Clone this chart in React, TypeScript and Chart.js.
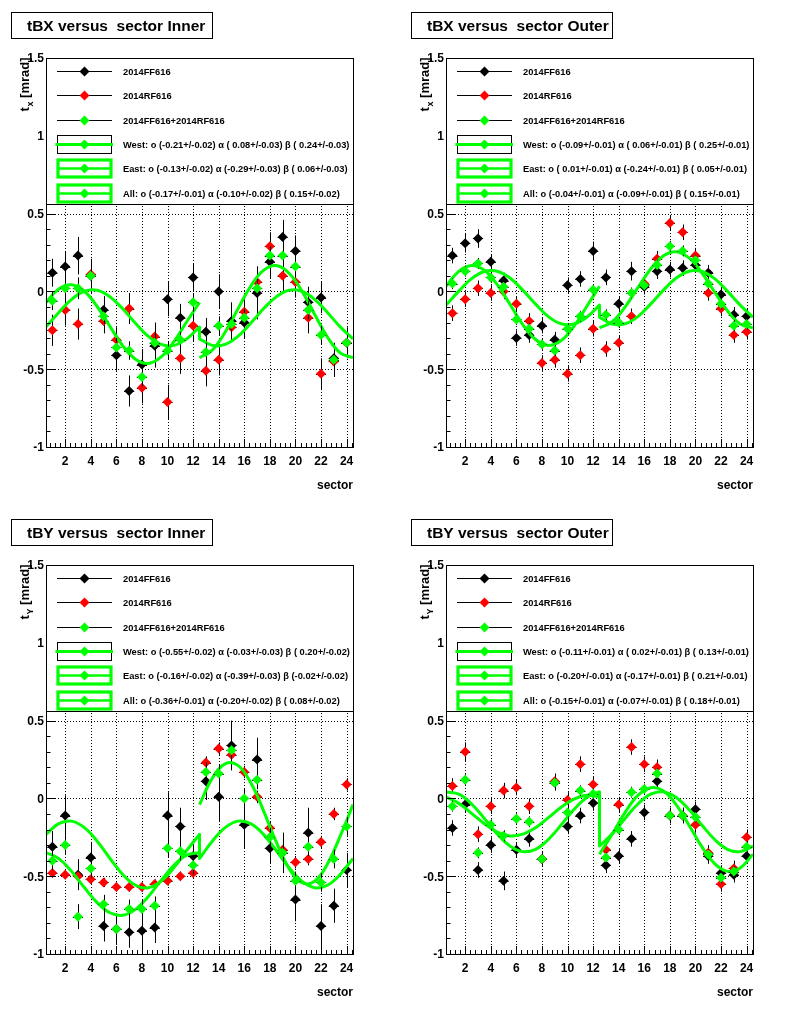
import React, { useEffect, useRef } from "react";
import { Chart, registerables } from "chart.js";
Chart.register(...registerables);

const FONT = '"Liberation Sans", Arial, Helvetica, sans-serif';

// ---------- axes ----------
const sectors = [1, 2, 3, 4, 5, 6, 7, 8, 9, 10, 11, 12, 13, 14, 15, 16, 17, 18, 19, 20, 21, 22, 23, 24];
const fitXWest = [0.5, 1.5, 2.5, 3.5, 4.5, 5.5, 6.5, 7.5, 8.5, 9.5, 10.5, 11.5, 12.5];
const fitXEast = [12.5, 13.5, 14.5, 15.5, 16.5, 17.5, 18.5, 19.5, 20.5, 21.5, 22.5, 23.5, 24.5];
const yTickValues = [-1, -0.5, 0, 0.5, 1, 1.5];
const yTickLabels = ["-1", "-0.5", "0", "0.5", "1", "1.5"];
const xTickValues = [2, 4, 6, 8, 10, 12, 14, 16, 18, 20, 22, 24];
const xTickLabels = ["2", "4", "6", "8", "10", "12", "14", "16", "18", "20", "22", "24"];
const seriesNames = ["2014FF616", "2014RF616", "2014FF616+2014RF616"];

// ---------- panel 1 : tBX Inner ----------
const p1Black = [0.12, 0.16, 0.23, 0.10, -0.12, -0.41, -0.64, -0.47, -0.35, -0.05, -0.17, 0.09, -0.26, 0.00, -0.19, -0.20, -0.01, 0.19, 0.35, 0.26, -0.07, -0.04, -0.43, -0.33];
const p1BlackErr = [0.09, 0.10, 0.12, 0.11, 0.09, 0.10, 0.10, 0.10, 0.14, 0.11, 0.09, 0.09, 0.09, 0.11, 0.12, 0.10, 0.17, 0.11, 0.11, 0.10, 0.10, 0.10, 0.10, 0.10];
const p1Red = [-0.25, -0.12, -0.21, 0.11, -0.19, -0.31, -0.11, -0.62, -0.29, -0.71, -0.43, -0.22, -0.51, -0.44, -0.23, -0.13, 0.06, 0.29, 0.10, 0.06, -0.17, -0.53, -0.45, -0.33];
const p1RedErr = [0.10, 0.10, 0.10, 0.08, 0.08, 0.08, 0.10, 0.10, 0.09, 0.11, 0.10, 0.10, 0.10, 0.10, 0.09, 0.08, 0.10, 0.09, 0.10, 0.10, 0.10, 0.10, 0.10, 0.08];
const p1Green = [-0.06, 0.02, 0.02, 0.10, -0.16, -0.36, -0.38, -0.55, -0.33, -0.38, -0.31, -0.07, -0.39, -0.22, -0.21, -0.17, 0.02, 0.23, 0.23, 0.16, -0.12, -0.28, -0.44, -0.33];
const p1GreenErr = [0.06, 0.06, 0.07, 0.06, 0.05, 0.06, 0.06, 0.06, 0.07, 0.06, 0.05, 0.06, 0.06, 0.06, 0.07, 0.06, 0.06, 0.06, 0.06, 0.06, 0.06, 0.06, 0.06, 0.05];
const p1West = [-0.071, 0.016, 0.043, 0.001, -0.097, -0.225, -0.349, -0.436, -0.463, -0.421, -0.323, -0.195, -0.071];
const p1East = [-0.426, -0.377, -0.263, -0.113, 0.033, 0.135, 0.166, 0.117, 0.003, -0.147, -0.293, -0.395, -0.426];
const p1AllWest = [-0.228, -0.135, -0.051, 0.001, 0.007, -0.035, -0.112, -0.205, -0.289, -0.341, -0.347, -0.305, -0.228];
const p1AllEast = [-0.305, -0.347, -0.341, -0.289, -0.205, -0.112, -0.035, 0.007, 0.001, -0.051, -0.135, -0.228, -0.305];
const p1FitText = [
  "West: o (-0.21+/-0.02) \u03b1 ( 0.08+/-0.03) \u03b2 ( 0.24+/-0.03)",
  "East: o (-0.13+/-0.02) \u03b1 (-0.29+/-0.03) \u03b2 ( 0.06+/-0.03)",
  "All: o (-0.17+/-0.01) \u03b1 (-0.10+/-0.02) \u03b2 ( 0.15+/-0.02)",
];

// ---------- panel 2 : tBX Outer ----------
const p2Black = [0.23, 0.31, 0.34, 0.19, 0.07, -0.30, -0.28, -0.22, -0.31, 0.04, 0.08, 0.26, 0.09, -0.08, 0.13, 0.03, 0.13, 0.14, 0.15, 0.17, 0.12, -0.02, -0.15, -0.16];
const p2BlackErr = [0.05, 0.06, 0.06, 0.05, 0.05, 0.05, 0.05, 0.05, 0.05, 0.05, 0.05, 0.06, 0.05, 0.05, 0.06, 0.05, 0.05, 0.05, 0.05, 0.05, 0.05, 0.05, 0.05, 0.05];
const p2Red = [-0.14, -0.05, 0.02, -0.01, 0.00, -0.08, -0.19, -0.46, -0.44, -0.53, -0.41, -0.24, -0.37, -0.33, -0.16, 0.05, 0.21, 0.44, 0.38, 0.23, -0.01, -0.11, -0.28, -0.26];
const p2RedErr = [0.05, 0.05, 0.05, 0.05, 0.05, 0.05, 0.05, 0.05, 0.05, 0.05, 0.05, 0.05, 0.05, 0.05, 0.05, 0.05, 0.05, 0.05, 0.05, 0.05, 0.05, 0.05, 0.05, 0.05];
const p2Green = [0.05, 0.13, 0.18, 0.09, 0.03, -0.18, -0.24, -0.34, -0.38, -0.24, -0.16, 0.01, -0.15, -0.20, -0.01, 0.04, 0.17, 0.29, 0.26, 0.20, 0.05, -0.08, -0.22, -0.21];
const p2GreenErr = [0.035, 0.035, 0.035, 0.035, 0.035, 0.035, 0.035, 0.035, 0.035, 0.035, 0.035, 0.035, 0.035, 0.035, 0.035, 0.035, 0.035, 0.035, 0.035, 0.035, 0.035, 0.035, 0.035, 0.035];
const p2West = [0.033, 0.129, 0.167, 0.136, 0.044, -0.083, -0.213, -0.309, -0.347, -0.316, -0.224, -0.097, 0.033];
const p2East = [-0.235, -0.195, -0.100, 0.024, 0.144, 0.229, 0.255, 0.215, 0.120, -0.004, -0.124, -0.209, -0.235];
const p2AllWest = [-0.088, 0.002, 0.082, 0.128, 0.130, 0.086, 0.008, -0.082, -0.162, -0.208, -0.210, -0.166, -0.088];
const p2AllEast = [-0.166, -0.210, -0.208, -0.162, -0.082, 0.008, 0.086, 0.130, 0.128, 0.082, 0.002, -0.088, -0.166];
const p2FitText = [
  "West: o (-0.09+/-0.01) \u03b1 ( 0.06+/-0.01) \u03b2 ( 0.25+/-0.01)",
  "East: o ( 0.01+/-0.01) \u03b1 (-0.24+/-0.01) \u03b2 ( 0.05+/-0.01)",
  "All: o (-0.04+/-0.01) \u03b1 (-0.09+/-0.01) \u03b2 ( 0.15+/-0.01)",
];

// ---------- panel 3 : tBY Inner ----------
const p3Black = [-0.31, -0.11, -0.49, -0.38, -0.82, -0.84, -0.86, -0.85, -0.83, -0.11, -0.18, -0.37, 0.11, 0.01, 0.34, -0.17, 0.25, -0.32, -0.35, -0.65, -0.22, -0.82, -0.69, -0.46];
const p3BlackErr = [0.10, 0.13, 0.10, 0.10, 0.10, 0.10, 0.10, 0.10, 0.10, 0.15, 0.12, 0.10, 0.12, 0.16, 0.16, 0.15, 0.14, 0.10, 0.13, 0.14, 0.16, 0.14, 0.11, 0.11];
const p3Red = [-0.48, -0.49, -0.50, -0.52, -0.54, -0.57, -0.57, -0.57, -0.55, -0.53, -0.50, -0.48, 0.23, 0.32, 0.28, 0.17, 0.01, -0.19, -0.33, -0.41, -0.39, -0.28, -0.10, 0.09];
const p3RedErr = [0.03, 0.03, 0.03, 0.03, 0.03, 0.03, 0.03, 0.03, 0.03, 0.03, 0.03, 0.03, 0.04, 0.04, 0.04, 0.04, 0.04, 0.04, 0.04, 0.04, 0.04, 0.04, 0.04, 0.04];
const p3Green = [-0.40, -0.30, -0.76, -0.45, -0.68, -0.84, -0.71, -0.71, -0.69, -0.32, -0.34, -0.43, 0.17, 0.16, 0.31, 0.00, 0.12, -0.25, -0.35, -0.53, -0.31, -0.54, -0.39, -0.18];
const p3GreenErr = [0.06, 0.06, 0.08, 0.06, 0.06, 0.06, 0.06, 0.06, 0.06, 0.06, 0.06, 0.06, 0.06, 0.06, 0.06, 0.06, 0.06, 0.06, 0.06, 0.06, 0.06, 0.06, 0.06, 0.06];
const p3West = [-0.349, -0.387, -0.469, -0.573, -0.670, -0.735, -0.751, -0.713, -0.631, -0.527, -0.430, -0.365, -0.349];
const p3East = [-0.040, 0.130, 0.222, 0.212, 0.102, -0.078, -0.280, -0.450, -0.542, -0.532, -0.422, -0.242, -0.040];
const p3AllWest = [-0.231, -0.162, -0.146, -0.188, -0.275, -0.386, -0.489, -0.558, -0.574, -0.532, -0.445, -0.335, -0.231];
const p3AllEast = [-0.386, -0.275, -0.188, -0.146, -0.162, -0.231, -0.335, -0.445, -0.532, -0.574, -0.558, -0.489, -0.386];
const p3FitText = [
  "West: o (-0.55+/-0.02) \u03b1 (-0.03+/-0.03) \u03b2 ( 0.20+/-0.02)",
  "East: o (-0.16+/-0.02) \u03b1 (-0.39+/-0.03) \u03b2 (-0.02+/-0.02)",
  "All: o (-0.36+/-0.01) \u03b1 (-0.20+/-0.02) \u03b2 ( 0.08+/-0.02)",
];

// ---------- panel 4 : tBY Outer ----------
const p4Black = [-0.19, -0.04, -0.46, -0.30, -0.53, -0.33, -0.26, -0.39, 0.10, -0.18, -0.11, -0.03, -0.43, -0.37, -0.26, -0.09, 0.11, -0.11, -0.11, -0.07, -0.37, -0.48, -0.49, -0.37];
const p4BlackErr = [0.05, 0.05, 0.05, 0.05, 0.06, 0.05, 0.05, 0.05, 0.05, 0.05, 0.05, 0.05, 0.05, 0.05, 0.05, 0.05, 0.05, 0.05, 0.05, 0.05, 0.05, 0.05, 0.05, 0.05];
const p4Red = [0.08, 0.30, -0.23, -0.05, 0.05, 0.07, -0.05, -0.39, 0.11, -0.01, 0.22, 0.09, -0.33, -0.04, 0.33, 0.22, 0.20, -0.11, -0.11, -0.17, -0.35, -0.55, -0.45, -0.25];
const p4RedErr = [0.05, 0.06, 0.05, 0.05, 0.05, 0.05, 0.05, 0.05, 0.05, 0.05, 0.05, 0.05, 0.05, 0.05, 0.05, 0.05, 0.05, 0.05, 0.05, 0.05, 0.05, 0.05, 0.05, 0.05];
const p4Green = [-0.05, 0.12, -0.35, -0.17, -0.24, -0.13, -0.15, -0.39, 0.10, -0.09, 0.05, 0.03, -0.38, -0.20, 0.04, 0.06, 0.16, -0.11, -0.11, -0.12, -0.36, -0.51, -0.47, -0.31];
const p4GreenErr = [0.035, 0.035, 0.035, 0.035, 0.035, 0.035, 0.035, 0.035, 0.035, 0.035, 0.035, 0.035, 0.035, 0.035, 0.035, 0.035, 0.035, 0.035, 0.035, 0.035, 0.035, 0.035, 0.035, 0.035];
const p4West = [0.010, -0.032, -0.096, -0.163, -0.216, -0.241, -0.230, -0.188, -0.124, -0.057, -0.004, 0.021, 0.010];
const p4East = [-0.359, -0.228, -0.090, 0.019, 0.069, 0.047, -0.041, -0.172, -0.310, -0.419, -0.469, -0.447, -0.359];
const p4AllWest = [0.042, 0.027, -0.036, -0.129, -0.228, -0.306, -0.342, -0.327, -0.264, -0.171, -0.072, 0.006, 0.042];
const p4AllEast = [-0.306, -0.228, -0.129, -0.036, 0.027, 0.042, 0.006, -0.072, -0.171, -0.264, -0.327, -0.342, -0.306];
const p4FitText = [
  "West: o (-0.11+/-0.01) \u03b1 ( 0.02+/-0.01) \u03b2 ( 0.13+/-0.01)",
  "East: o (-0.20+/-0.01) \u03b1 (-0.17+/-0.01) \u03b2 ( 0.21+/-0.01)",
  "All: o (-0.15+/-0.01) \u03b1 (-0.07+/-0.01) \u03b2 ( 0.18+/-0.01)",
];

const panels = [
  { left: 0, top: 0, title: "tBX versus  sector Inner", ySub: "x", black: p1Black, blackErr: p1BlackErr, red: p1Red, redErr: p1RedErr, green: p1Green, greenErr: p1GreenErr, west: p1West, east: p1East, allW: p1AllWest, allE: p1AllEast, fitText: p1FitText },
  { left: 400, top: 0, title: "tBX versus  sector Outer", ySub: "x", black: p2Black, blackErr: p2BlackErr, red: p2Red, redErr: p2RedErr, green: p2Green, greenErr: p2GreenErr, west: p2West, east: p2East, allW: p2AllWest, allE: p2AllEast, fitText: p2FitText },
  { left: 0, top: 507, title: "tBY versus  sector Inner", ySub: "Y", black: p3Black, blackErr: p3BlackErr, red: p3Red, redErr: p3RedErr, green: p3Green, greenErr: p3GreenErr, west: p3West, east: p3East, allW: p3AllWest, allE: p3AllEast, fitText: p3FitText },
  { left: 400, top: 507, title: "tBY versus  sector Outer", ySub: "Y", black: p4Black, blackErr: p4BlackErr, red: p4Red, redErr: p4RedErr, green: p4Green, greenErr: p4GreenErr, west: p4West, east: p4East, allW: p4AllWest, allE: p4AllEast, fitText: p4FitText },
];

const GREEN = "#00ff00";
const RED = "#ff0000";
const MARKER_R = 5;

function diamond(ctx: CanvasRenderingContext2D, x: number, y: number, r: number, color: string) {
  ctx.beginPath();
  ctx.moveTo(x - r, y);
  ctx.lineTo(x, y - r);
  ctx.lineTo(x + r, y);
  ctx.lineTo(x, y + r);
  ctx.closePath();
  ctx.fillStyle = color;
  ctx.fill();
}

function makePlugin(spec: any) {
  return {
    id: "rootStyle",
    beforeDraw(chart: any) {
      const { ctx, chartArea: a } = chart;
      const xs = chart.scales.x;
      const ys = chart.scales.y;
      ctx.save();
      ctx.fillStyle = "#fff";
      ctx.fillRect(0, 0, chart.width, chart.height);
      ctx.strokeStyle = "#000";
      ctx.lineWidth = 1;
      ctx.setLineDash([1, 2]);
      for (const v of xTickValues) {
        const px = Math.round(xs.getPixelForValue(v)) + 0.5;
        ctx.beginPath();
        ctx.moveTo(px, a.bottom);
        ctx.lineTo(px, a.top);
        ctx.stroke();
      }
      for (const v of yTickValues) {
        if (v <= -1 || v >= 1.5) continue;
        const py = Math.round(ys.getPixelForValue(v)) + 0.5;
        ctx.beginPath();
        ctx.moveTo(a.left, py);
        ctx.lineTo(a.right, py);
        ctx.stroke();
      }
      ctx.restore();
    },
    beforeDatasetDraw(chart: any, args: any) {
      const ds = chart.data.datasets[args.index];
      if (!ds.errY) return;
      const { ctx, chartArea: a } = chart;
      const xs = chart.scales.x;
      const ys = chart.scales.y;
      ctx.save();
      ctx.beginPath();
      ctx.rect(a.left, a.top, a.right - a.left, a.bottom - a.top);
      ctx.clip();
      ctx.strokeStyle = "#000";
      ctx.lineWidth = 1;
      ds.data.forEach((p: any, i: number) => {
        const e = ds.errY[i];
        const px = Math.round(xs.getPixelForValue(p.x)) + 0.5;
        const py = Math.round(ys.getPixelForValue(p.y)) + 0.5;
        ctx.beginPath();
        ctx.moveTo(px, ys.getPixelForValue(p.y - e));
        ctx.lineTo(px, ys.getPixelForValue(p.y + e));
        ctx.moveTo(xs.getPixelForValue(p.x - 0.4), py);
        ctx.lineTo(xs.getPixelForValue(p.x + 0.4), py);
        ctx.stroke();
      });
      ctx.restore();
    },
    afterDatasetsDraw(chart: any) {
      const { ctx, chartArea: a } = chart;
      const xs = chart.scales.x;
      const ys = chart.scales.y;
      ctx.save();
      ctx.strokeStyle = "#000";
      ctx.fillStyle = "#000";
      ctx.lineWidth = 1;
      ctx.setLineDash([]);

      // ticks
      ctx.beginPath();
      for (let k = 0; k <= 25; k++) {
        const v = -1 + k * 0.1;
        const py = Math.round(ys.getPixelForValue(v)) + 0.5;
        const major = k % 5 === 0;
        ctx.moveTo(a.left, py);
        ctx.lineTo(a.left + (major ? 9 : 4.5), py);
      }
      for (let k = 2; k <= 61; k++) {
        const v = k * 0.4;
        if (v > 24.5) break;
        const major = k % 5 === 0;
        const px = Math.round(xs.getPixelForValue(v)) + 0.5;
        ctx.moveTo(px, a.bottom);
        ctx.lineTo(px, a.bottom - (major ? 8 : 4));
      }
      ctx.stroke();

      // legend
      const lx0 = a.left + 0.5;
      const ly0 = a.top + 0.5;
      const lBottom = 204.5;
      ctx.fillStyle = "#fff";
      ctx.fillRect(lx0, ly0, a.right - a.left, lBottom - ly0);
      ctx.strokeStyle = "#000";
      ctx.strokeRect(lx0, ly0, a.right - a.left, lBottom - ly0);
      const rowY = (i: number) => 70.7 + 24.4 * i;
      const symL = 57;
      const symR = 112;
      const symC = 84.5;
      const colors = ["#000", RED, GREEN];
      ctx.font = `bold 9.3px ${FONT}`;
      ctx.textBaseline = "middle";
      ctx.textAlign = "left";
      for (let i = 0; i < 3; i++) {
        const y = Math.round(rowY(i)) + 0.5;
        ctx.strokeStyle = "#000";
        ctx.lineWidth = 1;
        ctx.beginPath();
        ctx.moveTo(symL, y);
        ctx.lineTo(symR, y);
        ctx.stroke();
        diamond(ctx, symC, y, MARKER_R, colors[i]);
        ctx.fillStyle = "#000";
        ctx.fillText(seriesNames[i], 123, y + 0.5);
      }
      for (let j = 0; j < 3; j++) {
        const y = Math.round(rowY(3 + j)) + 0.5;
        if (j === 0) {
          ctx.strokeStyle = "#000";
          ctx.lineWidth = 1;
          ctx.strokeRect(symL + 0.5, y - 9, symR - symL - 1, 18);
          ctx.strokeStyle = GREEN;
          ctx.lineWidth = 3;
          ctx.beginPath();
          ctx.moveTo(symL - 1.5, y);
          ctx.lineTo(symR + 1, y);
          ctx.stroke();
        } else {
          ctx.strokeStyle = GREEN;
          ctx.lineWidth = 3.2;
          ctx.strokeRect(symL + 1, y - 8.5, symR - symL - 2, 17);
          ctx.lineWidth = 2.5;
          ctx.beginPath();
          ctx.moveTo(symL, y);
          ctx.lineTo(symR, y);
          ctx.stroke();
        }
        diamond(ctx, symC, y, MARKER_R, GREEN);
        ctx.fillStyle = "#000";
        ctx.fillText(spec.fitText[j], 123, y + 0.5);
      }

      // frame
      ctx.strokeStyle = "#000";
      ctx.lineWidth = 1;
      ctx.strokeRect(a.left + 0.5, a.top + 0.5, a.right - a.left, a.bottom - a.top);

      // tick labels
      ctx.fillStyle = "#000";
      ctx.font = `bold 12px ${FONT}`;
      ctx.textAlign = "right";
      ctx.textBaseline = "middle";
      yTickValues.forEach((v, i) => {
        ctx.fillText(yTickLabels[i], 44, ys.getPixelForValue(v) + 1);
      });
      ctx.textAlign = "center";
      xTickValues.forEach((v, i) => {
        ctx.fillText(xTickLabels[i], xs.getPixelForValue(v), 462);
      });
      ctx.textAlign = "right";
      ctx.fillText("sector", a.right, 486);

      // y title
      ctx.save();
      ctx.translate(29, a.top);
      ctx.rotate(-Math.PI / 2);
      ctx.textAlign = "left";
      ctx.textBaseline = "alphabetic";
      const mainFont = `bold 13px ${FONT}`;
      const subFont = `bold 9px ${FONT}`;
      ctx.font = mainFont;
      const wt = ctx.measureText("t").width;
      const wr = ctx.measureText(" [mrad]").width;
      ctx.font = subFont;
      const ws = ctx.measureText(spec.ySub).width;
      const start = -(wt + ws + wr);
      ctx.font = mainFont;
      ctx.fillText("t", start, 0);
      ctx.font = subFont;
      ctx.fillText(spec.ySub, start + wt + 0.5, 4);
      ctx.font = mainFont;
      ctx.fillText(" [mrad]", start + wt + ws + 0.5, 0);
      ctx.restore();

      // title box
      ctx.lineWidth = 1;
      ctx.strokeStyle = "#000";
      ctx.strokeRect(11.5, 12.5, 201, 26);
      ctx.font = `bold 15.5px ${FONT}`;
      ctx.textAlign = "left";
      ctx.textBaseline = "alphabetic";
      ctx.fillText(spec.title, 27, 31);
      ctx.restore();
    },
  };
}

function pts(xs: number[], ys: number[]) {
  return xs.map((x, i) => ({ x, y: ys[i] }));
}

function Panel({ spec }: { spec: any }) {
  const ref = useRef<HTMLCanvasElement | null>(null);
  useEffect(() => {
    if (!ref.current) return;
    const markerDs = (data: number[], err: number[], color: string, order: number) => ({
      type: "scatter",
      data: pts(sectors, data),
      errY: err,
      pointStyle: "rectRot",
      pointRadius: MARKER_R,
      pointHoverRadius: MARKER_R,
      pointBackgroundColor: color,
      pointBorderColor: color,
      pointBorderWidth: 0,
      showLine: false,
      order,
    });
    const fitDs = (xs: number[], ys: number[], order: number, tension = 0.4) => ({
      type: "line",
      data: pts(xs, ys),
      borderColor: GREEN,
      borderWidth: 3,
      pointRadius: 0,
      tension,
      fill: false,
      showLine: true,
      borderJoinStyle: "round",
      order,
    });
    const allJumpX = [fitXWest[fitXWest.length - 1], fitXEast[0]];
    const allJumpY = [spec.allW[spec.allW.length - 1], spec.allE[0]];
    const chart = new Chart(ref.current, {
      type: "scatter",
      data: {
        datasets: [
          markerDs(spec.black, spec.blackErr, "#000", 10),
          markerDs(spec.red, spec.redErr, RED, 9),
          fitDs(fitXWest, spec.allW, 6),
          fitDs(fitXEast, spec.allE, 6),
          fitDs(allJumpX, allJumpY, 6, 0),
          fitDs(fitXEast, spec.east, 5),
          fitDs(fitXWest, spec.west, 4),
          markerDs(spec.green, spec.greenErr, GREEN, 1),
        ] as any,
      },
      options: {
        animation: false,
        responsive: false,
        events: [],
        layout: { padding: { left: 46, right: 47, top: 58, bottom: 60 } },
        scales: {
          x: { type: "linear", min: 0.5, max: 24.5, display: false },
          y: { type: "linear", min: -1, max: 1.5, display: false },
        },
        plugins: { legend: { display: false }, tooltip: { enabled: false }, title: { display: false } },
      } as any,
      plugins: [makePlugin(spec)],
    });
    return () => chart.destroy();
  }, [spec]);
  return (
    <canvas
      ref={ref}
      width={400}
      height={507}
      style={{ position: "absolute", left: spec.left, top: spec.top, width: 400, height: 507 }}
    />
  );
}

export default function App() {
  return (
    <div style={{ position: "absolute", left: 0, top: 0, width: 800, height: 1014, background: "#fff" }}>
      {panels.map((p, i) => (
        <Panel key={i} spec={p} />
      ))}
    </div>
  );
}
